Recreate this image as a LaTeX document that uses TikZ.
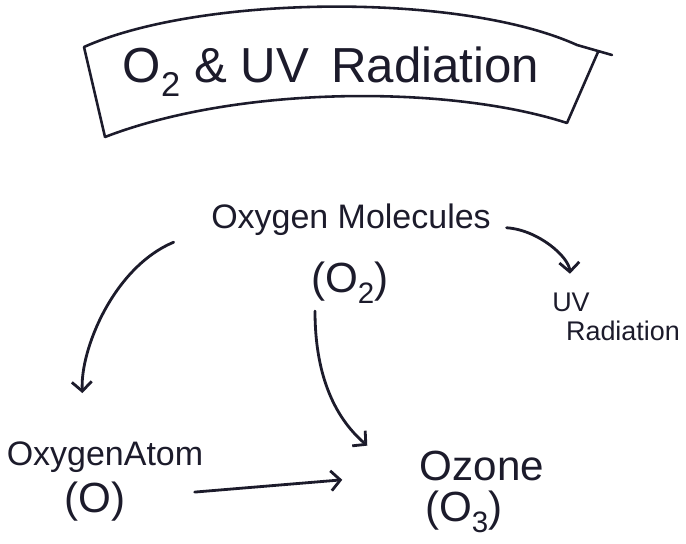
\documentclass[tikz,border=0pt]{standalone}
\usepackage{fontspec}
\setmainfont{Liberation Sans}
\usetikzlibrary{arrows.meta, positioning}
\definecolor{ink}{HTML}{1C1B2B}
\tikzset{
	titletext/.style={font=\fontsize{42}{46}\selectfont, text=ink, inner sep=2pt}
}
\tikzset{
	bigtext/.style={font=\fontsize{29}{31}\selectfont, text=ink, inner sep=2pt},
	formtext/.style={font=\fontsize{36}{40}\selectfont, text=ink, inner sep=2pt},
	smalltext/.style={font=\fontsize{23}{24}\selectfont, text=ink, inner sep=1pt}
}
\tikzset{
	inkarrow/.style={draw=ink, line width=2.4pt, line cap=round,
		-{Straight Barb[length=8pt, width=17pt]}}
}

\begin{document}
\begin{tikzpicture}[x=0.03cm, y=-0.03cm]
      \useasboundingbox (0,0) rectangle (686,544);

      % title banner
      \draw[ink, line width=2.2pt, line join=round, line cap=round]
        (105,137) -- (84,47) .. controls (200,-5) and (460,-8) .. (577,45) -- (612,55)
        (598,52) -- (567,123) .. controls (450,85) and (240,85) .. (105,137);
      \node[titletext] (title) at (331,72) {O\textsubscript{2} \& UV\, Radiation};

      % oxygen molecules
      \node[bigtext, anchor=base] (oxmol) at (351,229) {Oxygen Molecules};
      \node[formtext, anchor=base] (oxform) at (350,293) {(O\textsubscript{2})};

      % uv radiation
      \node[smalltext, anchor=base] (uv) at (571,312) {UV};
      \node[smalltext, anchor=base] (rad) at (623,341) {Radiation};

      % oxygen atom
      \node[bigtext, anchor=base] (atom) at (105,466) {OxygenAtom};
      \node[formtext, anchor=base] (atomform) at (95,513) {(O)};

      % ozone
      \node[formtext, anchor=base] (ozone) at (482,481) {Ozone};
      \node[formtext, anchor=base] (ozoneform) at (464,522) {(O\textsubscript{3})};

      % arrows
      \draw[inkarrow, shorten <=0.4cm, shorten >=0.55cm] ([yshift=-0.2cm]oxmol.east)
        .. controls +(45,3) and +(-2,-35) .. (uv.north);
      \draw[inkarrow, shorten >=1.4cm] ([xshift=-1.05cm, yshift=-0.66cm]oxmol.west)
        .. controls +(-60,25) and +(-5,-90) .. ([xshift=-0.6cm]atom.north);
      \draw[inkarrow] ([xshift=-1.05cm, yshift=-0.15cm]oxform.south)
        .. controls +(0,60) and +(-35,-30) .. ([xshift=-1.5cm, yshift=0.1cm]ozone.north west);
      \draw[inkarrow] ([xshift=2cm, yshift=0.3cm]atomform.east) -- ([xshift=-2.25cm, yshift=-0.4cm]ozone.west);
\end{tikzpicture}
\end{document}
